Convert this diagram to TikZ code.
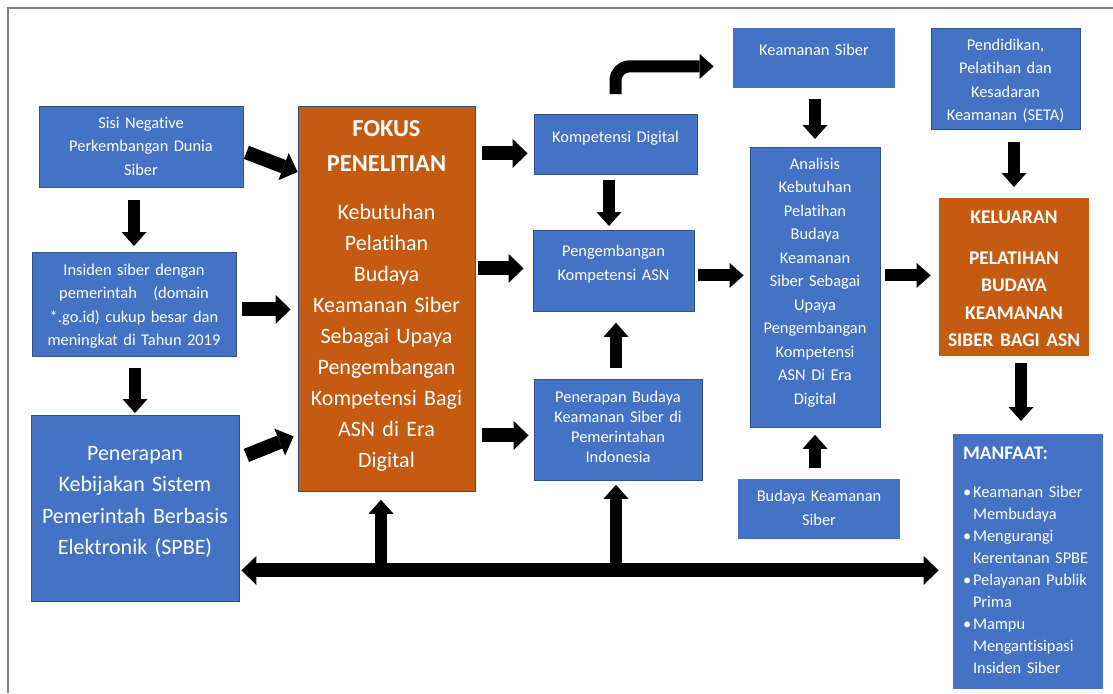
\documentclass[tikz,border=0pt]{standalone}
\usepackage{fontspec}
\setmainfont{Carlito}[Ligatures=NoCommon]
\usetikzlibrary{arrows.meta}
\definecolor{boxblue}{HTML}{4472C4}
\definecolor{boxorange}{HTML}{C55A11}
\definecolor{boxedge}{HTML}{2F528F}

\begin{document}
\begin{tikzpicture}[x=1pt,y=-1pt,
    box/.style={fill=boxblue,draw=boxedge,line width=0.8pt,text=white,align=center,
                anchor=north,inner sep=0pt,font=\fontsize{16.4}{23.5}\selectfont},
    smalltip/.tip={Triangle[length=14pt,width=25pt,line width=0pt]},
    bigtip/.tip={Triangle[length=15pt,width=29pt,line width=0pt]},
    blk/.style={line width=12pt,-smalltip},
    bigblk/.style={line width=14pt,-bigtip}]

\useasboundingbox (0,0) rectangle (1113,693);
\draw[black!50,line width=1.3pt] (1113,8) -- (8,8) -- (8,693);

% left column
\node[box,text width=204pt,text height=22pt,text depth=59pt] (sisi) at (141,106)
  {Sisi Negative\\Perkembangan Dunia\\Siber};
\node[box,text width=204pt,text height=23pt,text depth=81pt] (insiden) at (134,252)
  {Insiden siber dengan\\pemerintah~~~(domain\\{*}.go.id) cukup besar dan\\meningkat di Tahun 2019};
\node[box,text width=208pt,text height=45pt,text depth=141pt,
      font=\fontsize{22}{31.3}\selectfont] (kebijakan) at (135,415)
  {Penerapan\\Kebijakan Sistem\\Pemerintah Berbasis\\Elektronik (SPBE)};

% focus
\node[box,fill=boxorange,text width=177pt,text height=30pt,text depth=355pt,
      font=\fontsize{22}{31.1}\selectfont] (fokus) at (386.5,106)
  {{\bfseries\fontsize{24.4}{31.1}\selectfont FOKUS\\[3.9pt]PENELITIAN}\\[16.5pt]Kebutuhan\\Pelatihan\\Budaya\\Keamanan Siber\\Sebagai Upaya\\Pengembangan\\Kompetensi Bagi\\ASN di Era\\Digital};

% middle column
\node[box,text width=163pt,text height=28pt,text depth=32pt] (kompdig) at (615.5,114)
  {Kompetensi Digital};
\node[box,text width=161pt,text height=26pt,text depth=55pt,
      font=\fontsize{16.4}{24}\selectfont] (pengembangan) at (613.5,230)
  {Pengembangan\\Kompetensi ASN};
\node[box,text width=168pt,text height=23pt,text depth=78pt,
      font=\fontsize{16.4}{20}\selectfont] (penerapan) at (618,379)
  {Penerapan Budaya\\Keamanan Siber di\\Pemerintahan\\Indonesia};

% analysis column
\node[box,draw=none,text width=162pt,text height=27pt,text depth=33pt] (ks) at (814,28)
  {Keamanan Siber};
\node[box,text width=130pt,text height=22pt,text depth=258pt] (analisis) at (815,147)
  {Analisis\\Kebutuhan\\Pelatihan\\Budaya\\Keamanan\\Siber Sebagai\\Upaya\\Pengembangan\\Kompetensi\\ASN Di Era\\Digital};
\node[box,draw=none,text width=162pt,text height=22pt,text depth=38pt,
      font=\fontsize{16.4}{24}\selectfont] (budayaks) at (819,479)
  {Budaya Keamanan\\Siber};

% right column
\node[box,text width=149pt,text height=22pt,text depth=79pt] (seta) at (1005.5,28)
  {Pendidikan,\\Pelatihan dan\\Kesadaran\\Keamanan (SETA)};
\node[box,draw=none,fill=boxorange,text width=150pt,text height=25pt,text depth=133pt,
      font=\bfseries\fontsize{19.4}{27.3}\selectfont] (keluaran) at (1014,198)
  {KELUARAN\\[13.7pt]PELATIHAN\\BUDAYA\\KEAMANAN\\SIBER BAGI ASN};
\node[box,draw=none,align=left,inner xsep=10pt,text width=130pt,text height=25pt,text depth=230pt,
      font=\fontsize{16.4}{22}\selectfont] (manfaat) at (1028,434)
  {{\bfseries\fontsize{19.3}{22}\selectfont MANFAAT:}\\[16pt]
   \makebox[10pt][l]{•}Keamanan Siber\\\hspace*{10pt}Membudaya\\
   \makebox[10pt][l]{•}Mengurangi\\\hspace*{10pt}Kerentanan SPBE\\
   \makebox[10pt][l]{•}Pelayanan Publik\\\hspace*{10pt}Prima\\
   \makebox[10pt][l]{•}Mampu\\\hspace*{10pt}Mengantisipasi\\\hspace*{10pt}Insiden Siber};

% arrows
\draw[bigblk] ([xshift=3pt,yshift=-5.5pt]sisi.east) -- ([yshift=-66pt]fokus.north west);
\draw[blk,shorten <=12pt,shorten >=6pt] (insiden.north |- sisi.south) -- (insiden.north);
\draw[blk,shorten <=11pt,shorten >=2pt] (kebijakan.north |- insiden.south) -- (kebijakan.north);
\draw[bigblk] ([xshift=6pt,yshift=-5pt]insiden.east) -- ([xshift=-7pt,yshift=-10.5pt]fokus.west);
\draw[bigblk] ([xshift=7pt,yshift=53pt]kebijakan.east) -- ([xshift=-4pt,yshift=-137.5pt]fokus.west);
\draw[bigblk] ([xshift=7pt,yshift=145.5pt]fokus.east) -- ([xshift=-6pt,yshift=-9pt]kompdig.west);
\draw[bigblk] ([xshift=3pt,yshift=30.5pt]fokus.east) -- ([xshift=-9pt,yshift=2.5pt]pengembangan.west);
\draw[bigblk] ([xshift=7pt,yshift=-136.5pt]fokus.east) -- ([xshift=-5pt,yshift=-5.5pt]penerapan.west);
\draw[blk] ([xshift=-6.5pt,yshift=-5pt]kompdig.south) -- ([xshift=-4.5pt,yshift=4pt]pengembangan.north);
\draw[blk] ([xshift=-2pt,yshift=11pt]penerapan.north) -- ([xshift=2.5pt,yshift=-11pt]pengembangan.south);
\draw[blk,rounded corners=14pt] ([yshift=20pt]kompdig.north) |- ([xshift=-19pt,yshift=-8pt]ks.west);
\draw[blk] ([xshift=1pt,yshift=-10pt]ks.south) -- ([yshift=8pt]analisis.north);
\draw[blk] ([xshift=4pt,yshift=-4.5pt]pengembangan.east) -- ([xshift=-6pt,yshift=12pt]analisis.west);
\draw[blk] ([xshift=5pt,yshift=12pt]analisis.east) -- ([xshift=-8pt,yshift=2pt]keluaran.west);
\draw[blk] ([xshift=8.5pt,yshift=-12pt]seta.south) -- ([yshift=11pt]keluaran.north);
\draw[blk] ([xshift=-4pt,yshift=11pt]budayaks.north) -- ([yshift=-7pt]analisis.south);
\draw[blk] ([xshift=7pt,yshift=-6pt]keluaran.south) -- ([xshift=-7pt,yshift=13pt]manfaat.north);
\draw[line width=14pt,bigtip-bigtip] ([xshift=2pt,yshift=-62pt]kebijakan.east) -- ([xshift=-14pt,yshift=-8.5pt]manfaat.west);
\draw[blk] ([xshift=-5.5pt,yshift=-79pt]fokus.south) -- ([xshift=-5.5pt,yshift=-8pt]fokus.south);
\draw[blk] ([xshift=-2pt,yshift=-90pt]penerapan.south) -- ([xshift=-2pt,yshift=-4pt]penerapan.south);
\end{tikzpicture}
\end{document}
